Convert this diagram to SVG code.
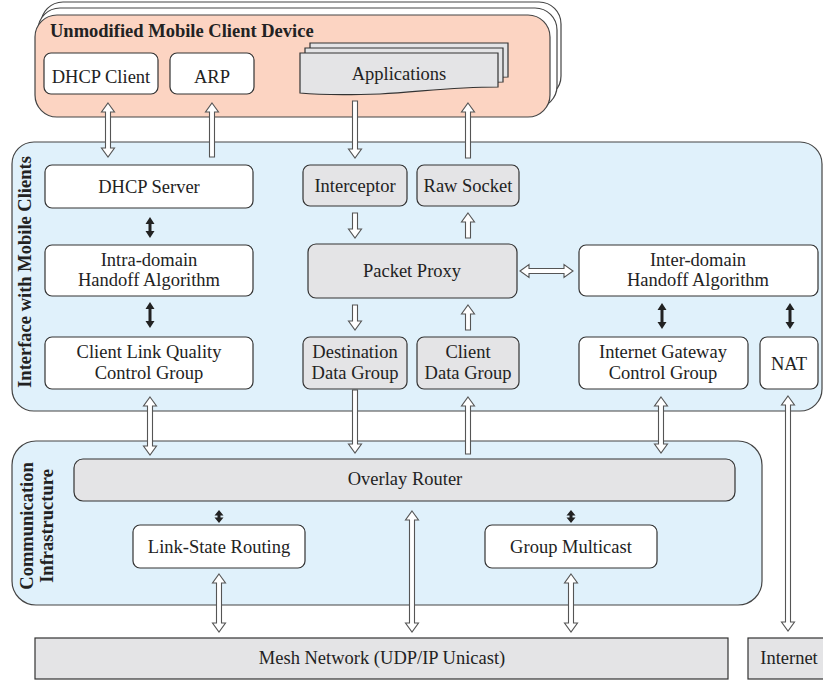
<svg xmlns="http://www.w3.org/2000/svg" width="823" height="683" viewBox="0 0 823 683">
<style>
text{font-family:"Liberation Serif","Times New Roman",serif;font-size:18.5px;fill:#222;text-anchor:middle}
.b{font-weight:bold}
.node{stroke:#333;stroke-width:1.2}
.w{fill:#fff}
.g{fill:#e4e4e6}
.ha{fill:#fff;stroke:#555;stroke-width:1.1;stroke-linejoin:miter}
.ba{fill:#222;stroke:none}
</style>
<rect width="823" height="683" fill="#fff"/>
<g id="mobile-device">
<rect x="41" y="2" width="520" height="96" rx="22" fill="#fff" stroke="#444" stroke-width="1.2"/>
<rect x="38" y="8" width="519" height="100" rx="22" fill="#fff" stroke="#444" stroke-width="1.2"/>
<rect x="35" y="15" width="515" height="102" rx="22" fill="#fcd4c2" stroke="#444" stroke-width="1.2"/>
<text class="b" x="50" y="37" style="text-anchor:start">Unmodified Mobile Client Device</text>
</g>
<g id="interface-box">
<rect x="12" y="142" width="810" height="269" rx="22" fill="#e0f1fb" stroke="#444" stroke-width="1.2"/>
<text class="b" transform="translate(31,272) rotate(-90)">Interface with Mobile Clients</text>
</g>
<g id="comm-box">
<rect x="12" y="441" width="750" height="164" rx="24" fill="#e0f1fb" stroke="#444" stroke-width="1.2"/>
<text class="b" transform="translate(33,526) rotate(-90)">Communication</text>
<text class="b" transform="translate(53,526) rotate(-90)">Infrastructure</text>
</g>
<g id="connectors">
<path class="ha" d="M108,103 L114.5,112 L110.5,112 L110.5,148 L114.5,148 L108,157 L101.5,148 L105.5,148 L105.5,112 L101.5,112 Z"/>
<path class="ha" d="M212,103 L218.5,112 L214.5,112 L214.5,157 L209.5,157 L209.5,112 L205.5,112 Z"/>
<path class="ha" d="M352.5,101 L357.5,101 L357.5,149 L361.5,149 L355,158 L348.5,149 L352.5,149 Z"/>
<path class="ha" d="M468,103 L474.5,112 L470.5,112 L470.5,158 L465.5,158 L465.5,112 L461.5,112 Z"/>
<path class="ha" d="M352.5,213 L357.5,213 L357.5,229 L361.5,229 L355,238 L348.5,229 L352.5,229 Z"/>
<path class="ha" d="M468,213 L474.5,222 L470.5,222 L470.5,238 L465.5,238 L465.5,222 L461.5,222 Z"/>
<path class="ha" d="M352.5,305 L357.5,305 L357.5,321 L361.5,321 L355,330 L348.5,321 L352.5,321 Z"/>
<path class="ha" d="M468,305 L474.5,314 L470.5,314 L470.5,330 L465.5,330 L465.5,314 L461.5,314 Z"/>
<path class="ha" d="M520,271 L529,264.5 L529,268.5 L564,268.5 L564,264.5 L573,271 L564,277.5 L564,273.5 L529,273.5 L529,277.5 Z"/>
<path class="ha" d="M150,397 L156.5,406 L152.5,406 L152.5,446 L156.5,446 L150,455 L143.5,446 L147.5,446 L147.5,406 L143.5,406 Z"/>
<path class="ha" d="M352.5,390 L357.5,390 L357.5,444 L361.5,444 L355,453 L348.5,444 L352.5,444 Z"/>
<path class="ha" d="M468,397 L474.5,406 L470.5,406 L470.5,454 L465.5,454 L465.5,406 L461.5,406 Z"/>
<path class="ha" d="M661,397 L667.5,406 L663.5,406 L663.5,444 L667.5,444 L661,453 L654.5,444 L658.5,444 L658.5,406 L654.5,406 Z"/>
<path class="ha" d="M788,396 L794.5,405 L790.5,405 L790.5,622 L794.5,622 L788,631 L781.5,622 L785.5,622 L785.5,405 L781.5,405 Z"/>
<path class="ha" d="M219,574 L225.5,583 L221.5,583 L221.5,623 L225.5,623 L219,632 L212.5,623 L216.5,623 L216.5,583 L212.5,583 Z"/>
<path class="ha" d="M412,511 L418.5,520 L414.5,520 L414.5,623 L418.5,623 L412,632 L405.5,623 L409.5,623 L409.5,520 L405.5,520 Z"/>
<path class="ha" d="M571,574 L577.5,583 L573.5,583 L573.5,623 L577.5,623 L571,632 L564.5,623 L568.5,623 L568.5,583 L564.5,583 Z"/>
<path class="ba" d="M150,217 L154.5,224 L151.5,224 L151.5,231 L154.5,231 L150,238 L145.5,231 L148.5,231 L148.5,224 L145.5,224 Z"/>
<path class="ba" d="M150,302 L154.5,309 L151.5,309 L151.5,321 L154.5,321 L150,328 L145.5,321 L148.5,321 L148.5,309 L145.5,309 Z"/>
<path class="ba" d="M662,303 L666.5,310 L663.5,310 L663.5,322 L666.5,322 L662,329 L657.5,322 L660.5,322 L660.5,310 L657.5,310 Z"/>
<path class="ba" d="M790,303 L794.5,310 L791.5,310 L791.5,322 L794.5,322 L790,329 L785.5,322 L788.5,322 L788.5,310 L785.5,310 Z"/>
<path class="ba" d="M219,510 L223.5,515.5 L220.5,515.5 L220.5,517.5 L223.5,517.5 L219,523 L214.5,517.5 L217.5,517.5 L217.5,515.5 L214.5,515.5 Z"/>
<path class="ba" d="M571,510 L575.5,515.5 L572.5,515.5 L572.5,517.5 L575.5,517.5 L571,523 L566.5,517.5 L569.5,517.5 L569.5,515.5 L566.5,515.5 Z"/>
</g>
<g id="dhcp-client"><rect class="node w" x="44" y="53" width="114" height="41" rx="7"/><text x="101" y="83">DHCP Client</text></g>
<g id="arp"><rect class="node w" x="170" y="53" width="84" height="41" rx="7"/><text x="212" y="83">ARP</text></g>
<g id="applications">
<path class="node g" transform="translate(10,-10)" d="M300,53 H498 V87 C450,87 420,92 380,94 C350,95 320,95 300,93 Z"/>
<path class="node g" transform="translate(5,-5)" d="M300,53 H498 V87 C450,87 420,92 380,94 C350,95 320,95 300,93 Z"/>
<path class="node g" d="M300,53 H498 V87 C450,87 420,92 380,94 C350,95 320,95 300,93 Z"/>
<text x="399" y="80">Applications</text>
</g>
<g id="dhcp-server"><rect class="node w" x="45" y="165" width="208" height="43" rx="7"/><text x="149" y="193">DHCP Server</text></g>
<g id="intra-domain"><rect class="node w" x="45" y="245" width="208" height="51" rx="7"/><text x="149" y="266">Intra-domain</text><text x="149" y="286">Handoff Algorithm</text></g>
<g id="client-link-quality"><rect class="node w" x="45" y="337" width="208" height="52" rx="7"/><text x="149" y="358">Client Link Quality</text><text x="149" y="379">Control Group</text></g>
<g id="interceptor"><rect class="node g" x="303" y="165" width="104" height="41" rx="7"/><text x="355" y="192">Interceptor</text></g>
<g id="raw-socket"><rect class="node g" x="417" y="165" width="102" height="41" rx="7"/><text x="468" y="192">Raw Socket</text></g>
<g id="packet-proxy"><rect class="node g" x="308" y="244" width="209" height="54" rx="8"/><text x="412" y="277">Packet Proxy</text></g>
<g id="destination-data-group"><rect class="node g" x="303" y="337" width="104" height="52" rx="7"/><text x="355" y="358">Destination</text><text x="355" y="379">Data Group</text></g>
<g id="client-data-group"><rect class="node g" x="417" y="337" width="102" height="52" rx="7"/><text x="468" y="358">Client</text><text x="468" y="379">Data Group</text></g>
<g id="inter-domain"><rect class="node w" x="579" y="245" width="239" height="51" rx="7"/><text x="698" y="266">Inter-domain</text><text x="698" y="286">Handoff Algorithm</text></g>
<g id="internet-gateway"><rect class="node w" x="579" y="337" width="169" height="52" rx="7"/><text x="663" y="358">Internet Gateway</text><text x="663" y="379">Control Group</text></g>
<g id="nat"><rect class="node w" x="760" y="337" width="58" height="52" rx="7"/><text x="789" y="370">NAT</text></g>
<g id="overlay-router"><rect class="node g" x="74" y="459" width="661" height="42" rx="9"/><text x="405" y="485">Overlay Router</text></g>
<g id="link-state-routing"><rect class="node w" x="133" y="525" width="172" height="43" rx="7"/><text x="219" y="553">Link-State Routing</text></g>
<g id="group-multicast"><rect class="node w" x="485" y="525" width="172" height="43" rx="7"/><text x="571" y="553">Group Multicast</text></g>
<g id="mesh-network"><rect class="node g" x="35" y="638" width="693" height="41"/><text x="382" y="664">Mesh Network (UDP/IP Unicast)</text></g>
<g id="internet"><rect class="node g" x="748" y="638" width="85" height="41"/><text x="789" y="664">Internet</text></g>
</svg>
